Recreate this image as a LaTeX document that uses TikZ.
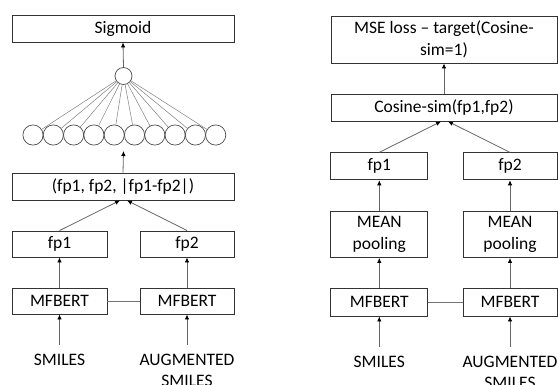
\documentclass[tikz,border=0pt]{standalone}
\usepackage{fontspec}
\setmainfont{Carlito}
\usetikzlibrary{arrows.meta}
\begin{document}
\begin{tikzpicture}[x=1pt,y=-1pt,
  every node/.style={font=\fontsize{17.5}{22}\selectfont},
  box/.style={draw=black!80,line width=0.9pt,inner sep=0pt,align=center},
  neuron/.style={circle,draw=black!70,line width=0.7pt,inner sep=0pt,minimum size=#1},
  arr/.style={draw=black!60,line width=0.8pt,-{Latex[length=5pt,width=4.5pt,color=black]}},
  link/.style={draw=black!50,line width=0.5pt},
  plain/.style={draw=black!55,line width=0.8pt},
  lbl/.style={inner xsep=0pt,inner ysep=9pt,align=center,anchor=north,font=\fontsize{17.5}{20.5}\selectfont}]
\useasboundingbox (0,0) rectangle (558,384);
% ---------- left panel ----------
\node[box,minimum width=222pt,minimum height=27pt] (sig) at (123,28.5) {Sigmoid};
\node[neuron=17pt] (c0) at (123.5,76) {};
\foreach \i in {1,...,10}{
  \node[neuron=20.2pt] (b\i) at ({33+20.3*(\i-1)},135) {};
  \draw[link] (b\i) -- (c0);
}
\node[box,minimum width=222pt,minimum height=27pt] (cat) at (123,186.5) {(fp1, fp2, |fp1-fp2|)};
\node[box,minimum width=95pt,minimum height=26pt] (fpL1) at (59.5,244) {fp1};
\node[box,minimum width=94pt,minimum height=26pt] (fpL2) at (187,244) {fp2};
\node[box,minimum width=95pt,minimum height=26pt] (mfL1) at (59.5,301) {MFBERT};
\node[box,minimum width=94pt,minimum height=26pt] (mfL2) at (187,301) {MFBERT};
\node[lbl] (smL) at (59.5,345) {SMILES};
\node[lbl] (augL) at (187,345) {AUGMENTED\\SMILES};
\coordinate (bm) at (123.5,151);
\draw[arr] (c0.north) -- (sig.south);
\draw[arr] (cat.north) -- (bm);
\draw[arr] (fpL1.north) -- ([xshift=-3pt]cat.south);
\draw[arr] (fpL2.north) -- ([xshift=4pt]cat.south);
\draw[arr] (mfL1.north) -- (fpL1.south);
\draw[arr] (mfL2.north) -- (fpL2.south);
\draw[plain] (mfL1) -- (mfL2);
\draw[arr] (smL.north) -- (mfL1.south);
\draw[arr] (augL.north) -- (mfL2.south);
% ---------- right panel ----------
\node[box,minimum width=226pt,minimum height=47pt] (mse) at (444,39.5) {MSE loss -- target(Cosine-\\sim=1)};
\node[box,minimum width=226pt,minimum height=27pt] (cos) at (444,107.5) {Cosine-sim(fp1,fp2)};
\node[box,minimum width=97pt,minimum height=27pt] (fpR1) at (379.3,166.3) {fp1};
\node[box,minimum width=94pt,minimum height=27pt] (fpR2) at (510,166.3) {fp2};
\node[box,minimum width=97pt,minimum height=46pt] (mnR1) at (379.3,234.5) {MEAN\\pooling};
\node[box,minimum width=94pt,minimum height=46pt] (mnR2) at (510,234.5) {MEAN\\pooling};
\node[box,minimum width=97pt,minimum height=28pt] (mfR1) at (379.3,302) {MFBERT};
\node[box,minimum width=94pt,minimum height=28pt] (mfR2) at (510,302) {MFBERT};
\node[lbl] (smR) at (379.3,347) {SMILES};
\node[lbl] (augR) at (510,347) {AUGMENTED\\SMILES};
\draw[arr] (cos.north) -- (mse.south);
\draw[arr] (fpR1.north) -- ([xshift=-3pt]cos.south);
\draw[arr] (fpR2.north) -- ([xshift=4pt]cos.south);
\draw[arr] (mnR1.north) -- (fpR1.south);
\draw[arr] (mnR2.north) -- (fpR2.south);
\draw[arr] (mfR1.north) -- (mnR1.south);
\draw[arr] (mfR2.north) -- (mnR2.south);
\draw[plain] (mfR1) -- (mfR2);
\draw[arr] (smR.north) -- (mfR1.south);
\draw[arr] (augR.north) -- (mfR2.south);
\end{tikzpicture}
\end{document}
